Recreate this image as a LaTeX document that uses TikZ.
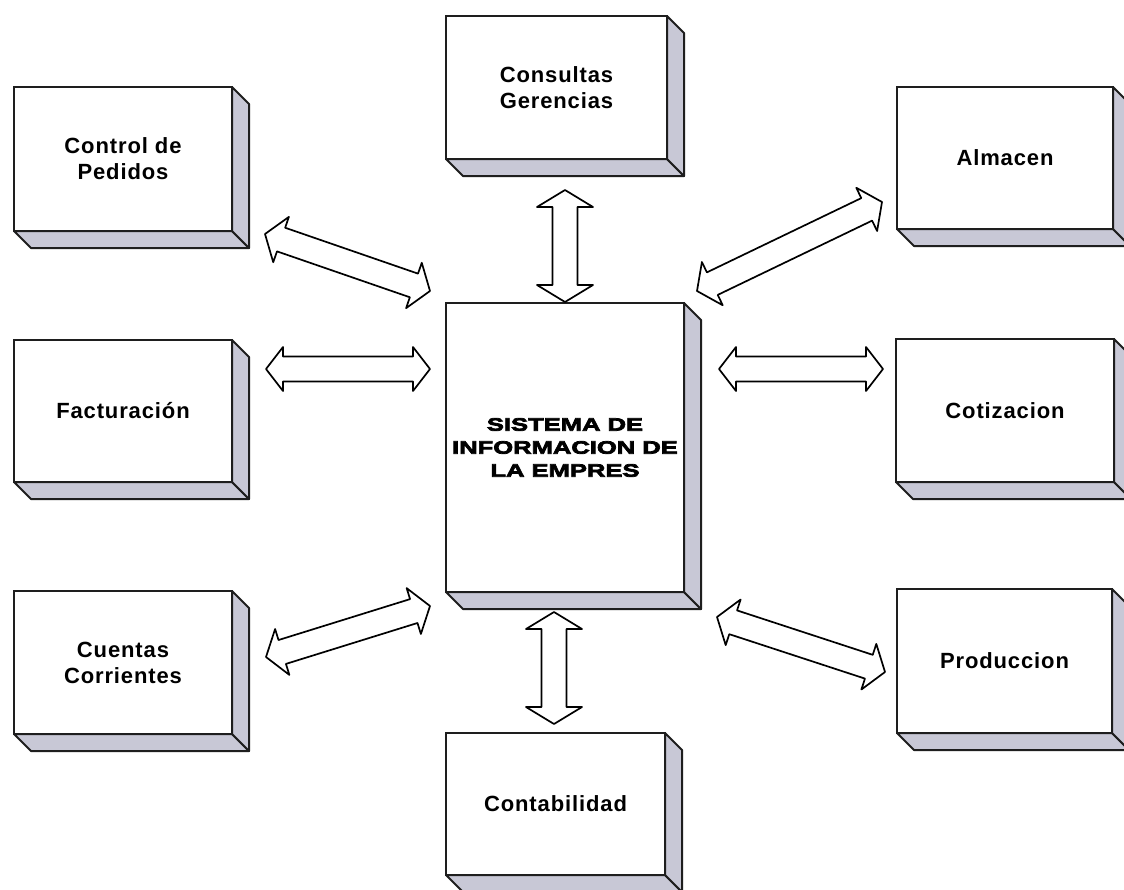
\documentclass[tikz,border=0pt]{standalone}
\usepackage{fontspec}
\setmainfont{Liberation Sans}
\newfontfamily\labelfont{Liberation Sans}[LetterSpace=4]
\newfontfamily\heavyfont{Liberation Sans Bold}[FakeStretch=1.42,FakeBold=4]
\usetikzlibrary{calc}

\definecolor{edge}{HTML}{1E1E1E}
\definecolor{sideshade}{RGB}{200,200,214}

% depth of the slab sides and size of the hollow two-way arrows
\def\slabdepth{17}
\def\twhead{17pt}
\def\twshaft{12.5pt}

\tikzset{
  frontbox/.style={draw=edge, line width=2pt, fill=white, outer sep=0pt,
    inner sep=0pt, align=center, font=\labelfont\bfseries\fontsize{22}{26}\selectfont},
  corebox/.style={frontbox, font=\heavyfont\fontsize{18}{23}\selectfont},
  sideface/.style={draw=edge, line width=2pt, fill=sideshade, line join=round},
  flowarrow/.style={draw=black, line width=1.7pt, fill=white, line join=round},
}

% shaded bottom and right faces of a box node
\newcommand\slab[1]{%
  \filldraw[sideface] (#1.south west) -- ++(\slabdepth,\slabdepth)
    -- ($(#1.south east)+(\slabdepth,\slabdepth)$) -- (#1.south east) -- cycle;
  \filldraw[sideface] (#1.north east) -- ++(\slabdepth,\slabdepth)
    -- ($(#1.south east)+(\slabdepth,\slabdepth)$) -- (#1.south east) -- cycle;
}

% hollow double-headed arrow between two named tips; #3 = half width of the heads
\newcommand\twoway[3]{%
  \coordinate (tw1) at ($(#1)!\twhead!(#2)$);
  \coordinate (tw2) at ($(#2)!\twhead!(#1)$);
  \draw[flowarrow] (#1)
    -- ($(tw1)!#3!90:(#2)$) -- ($(tw1)!\twshaft!90:(#2)$)
    -- ($(tw2)!\twshaft!-90:(#1)$) -- ($(tw2)!#3!-90:(#1)$)
    -- (#2)
    -- ($(tw2)!#3!90:(#1)$) -- ($(tw2)!\twshaft!90:(#1)$)
    -- ($(tw1)!\twshaft!-90:(#2)$) -- ($(tw1)!#3!-90:(#2)$)
    -- cycle;
}

\begin{document}
\begin{tikzpicture}[x=1pt,y=-1pt]
\useasboundingbox (0,0) rectangle (1124,889);
\clip (0,0) rectangle (1124,889);
\fill[white] (0,0) rectangle (1124,889);

% central system
\node[corebox, minimum width=238pt, minimum height=289pt] (sis) at (565,447.5)
  {SISTEMA DE\\INFORMACION DE\\LA EMPRES};

% surrounding modules
\node[frontbox, minimum width=218pt, minimum height=144pt] (ped) at (123,159) {Control de\\Pedidos};
\node[frontbox, minimum width=221pt, minimum height=143pt] (con) at (556.5,87.5) {Consultas\\Gerencias};
\node[frontbox, minimum width=216pt, minimum height=142pt] (alm) at (1005,158) {Almacen};
\node[frontbox, minimum width=218pt, minimum height=142pt] (fac) at (123,411) {Facturación};
\node[frontbox, minimum width=218pt, minimum height=143pt] (cot) at (1005,410.5) {Cotizacion};
\node[frontbox, minimum width=218pt, minimum height=143pt] (cue) at (123,662.5) {Cuentas\\Corrientes};
\node[frontbox, minimum width=215pt, minimum height=144pt] (pro) at (1004.5,661) {Produccion};
\node[frontbox, minimum width=219pt, minimum height=142pt] (ctb) at (555.5,804) {Contabilidad};

\foreach \b in {sis,ped,con,alm,fac,cot,cue,pro,ctb} {\slab{\b}}

% arrow tips
\coordinate (pedA) at (265,234);  \coordinate (pedB) at (430,291);
\coordinate (conA) at (565,190);  \coordinate (conB) at (565,302);
\coordinate (almA) at (697,291);  \coordinate (almB) at (882,202);
\coordinate (facA) at (266,369);  \coordinate (facB) at (430,369);
\coordinate (cotA) at (719,369);  \coordinate (cotB) at (883,369);
\coordinate (cueA) at (266,657);  \coordinate (cueB) at (430,606);
\coordinate (proA) at (717,617);  \coordinate (proB) at (885,672);
\coordinate (ctbA) at (554,612);  \coordinate (ctbB) at (554,724);

\twoway{pedA}{pedB}{24pt}
\twoway{conA}{conB}{28pt}
\twoway{almA}{almB}{24pt}
\twoway{facA}{facB}{22pt}
\twoway{cotA}{cotB}{22pt}
\twoway{cueA}{cueB}{24pt}
\twoway{proA}{proB}{24pt}
\twoway{ctbA}{ctbB}{28pt}
\end{tikzpicture}
\end{document}
